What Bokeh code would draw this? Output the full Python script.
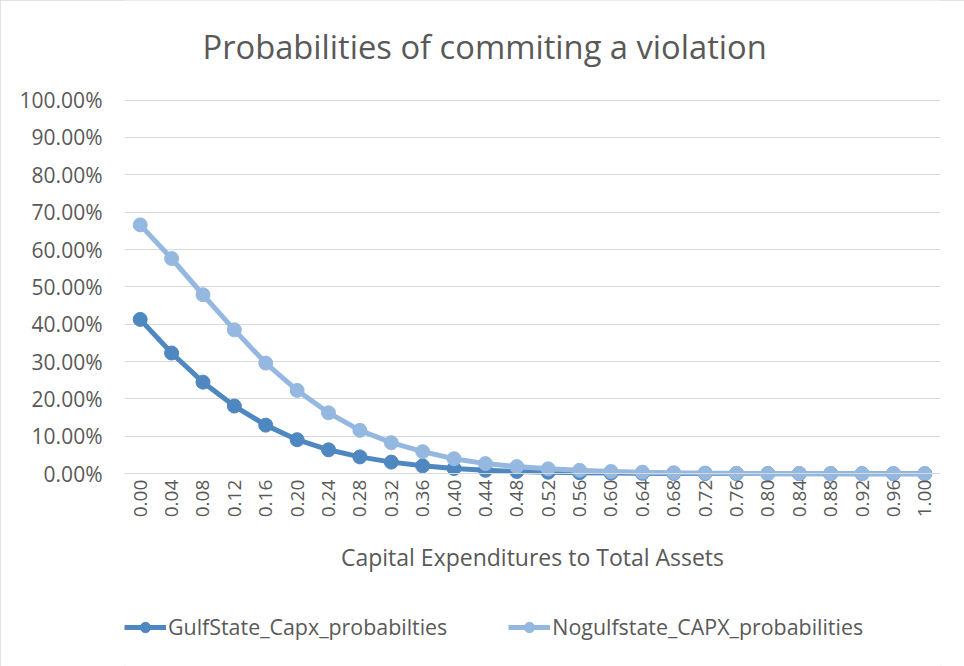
import math
from bokeh.plotting import figure
from bokeh.models import (ColumnDataSource, FixedTicker, NumeralTickFormatter,
                          Legend, LegendItem, Range1d, Label)
from bokeh.embed import file_html
from bokeh.resources import INLINE

# ---- data ----
capx_ratio = [0.00, 0.04, 0.08, 0.12, 0.16, 0.20, 0.24, 0.28, 0.32, 0.36,
              0.40, 0.44, 0.48, 0.52, 0.56, 0.60, 0.64, 0.68, 0.72, 0.76,
              0.80, 0.84, 0.88, 0.92, 0.96, 1.00]
gulf_prob = [0.413, 0.323, 0.245, 0.181, 0.130, 0.091, 0.064, 0.045, 0.031,
             0.021, 0.014, 0.009, 0.006, 0.004, 0.0027, 0.0018, 0.0012,
             0.0008, 0.0005, 0.0003, 0.0002, 0.00013, 0.00008, 0.00005,
             0.00003, 0.00002]
nogulf_prob = [0.666, 0.576, 0.479, 0.385, 0.296, 0.223, 0.163, 0.116, 0.083,
               0.059, 0.040, 0.027, 0.019, 0.013, 0.009, 0.006, 0.004, 0.0025,
               0.0016, 0.0010, 0.0006, 0.0004, 0.00025, 0.00015, 0.0001,
               0.00006]
y_ticks = [0.0, 0.1, 0.2, 0.3, 0.4, 0.5, 0.6, 0.7, 0.8, 0.9, 1.0]

title_text = "Probabilities of commiting a violation"
x_title = "Capital Expenditures to Total Assets"
series_names = ["GulfState_Capx_probabilties", "Nogulfstate_CAPX_probabilities"]
colors = ["#4f87c0", "#95b8e1"]

FONT = "Open Sans"
TXT = "#595959"

W, H = 964, 666
# plot-area geometry (px): 0 % at y=473.2, 100 % at y=99.6
Y0_PX, Y100_PX = 473.2, 99.6
unit = Y0_PX - Y100_PX
y_top = 1 + Y100_PX / unit
y_bot = -(H - Y0_PX) / unit

src = ColumnDataSource(dict(x=capx_ratio, g=gulf_prob, n=nogulf_prob))

p = figure(width=W, height=H, output_backend="svg", toolbar_location=None,
           x_range=Range1d(-0.02, 1.02), y_range=Range1d(y_bot, y_top),
           min_border_left=124, min_border_right=24,
           min_border_top=0, min_border_bottom=0)
p.outline_line_color = None
p.background_fill_color = "white"
p.border_fill_color = "white"
p.title.text = ""
p.styles = {"outline": "1px solid #d9d9d9", "outline-offset": "-1px"}

# title (as a label in the frame so it can sit high up)
p.add_layout(Label(x=78, y=H - 46, x_units="screen", y_units="screen",
                   text=title_text, text_font=FONT, text_font_size="32.7px",
                   text_color=TXT, text_baseline="alphabetic",
                   text_align="left"))

# grids
p.xgrid.grid_line_color = None
p.ygrid.grid_line_color = "#d9d9d9"
p.ygrid.grid_line_width = 1
p.ygrid.ticker = FixedTicker(ticks=y_ticks)

# y axis
p.yaxis.ticker = FixedTicker(ticks=y_ticks)
p.yaxis.formatter = NumeralTickFormatter(format="0.00%")
p.yaxis.axis_line_color = None
p.yaxis.major_tick_line_color = None
p.yaxis.minor_tick_line_color = None
p.yaxis.major_tick_out = 0
p.yaxis.major_tick_in = 0
p.yaxis.major_label_standoff = 22
p.yaxis.major_label_text_font = FONT
p.yaxis.major_label_text_font_size = "21px"
p.yaxis.major_label_text_color = TXT

# x axis, pinned at 0 %
p.xaxis.fixed_location = 0
p.xaxis.ticker = FixedTicker(ticks=capx_ratio)
p.xaxis.formatter = NumeralTickFormatter(format="0.00")
p.xaxis.axis_line_color = "#d9d9d9"
p.xaxis.axis_line_width = 1
p.xaxis.major_tick_line_color = None
p.xaxis.minor_tick_line_color = None
p.xaxis.major_tick_out = 0
p.xaxis.major_tick_in = 0
p.xaxis.major_label_standoff = 6
p.xaxis.major_label_orientation = math.pi / 2
p.xaxis.major_label_text_font = FONT
p.xaxis.major_label_text_font_size = "19px"
p.xaxis.major_label_text_color = TXT
p.xaxis.axis_label = x_title
p.xaxis.axis_label_text_font = FONT
p.xaxis.axis_label_text_font_size = "23px"
p.xaxis.axis_label_text_font_style = "normal"
p.xaxis.axis_label_text_color = TXT
p.xaxis.axis_label_standoff = 21

# series
items = []
for col, name, color in zip(["g", "n"], series_names, colors):
    ln = p.line("x", col, source=src, line_color=color, line_width=5)
    sc = p.scatter("x", col, source=src, size=14, fill_color=color,
                   line_color=color, marker="circle")
    items.append(LegendItem(label=name, renderers=[ln, sc]))

legend = Legend(items=items, orientation="horizontal", location=(0, 25),
                glyph_width=42, glyph_height=26, label_height=26,
                label_standoff=2, spacing=61,
                padding=0, margin=0, border_line_color=None,
                background_fill_alpha=0, label_text_font=FONT,
                label_text_font_size="21.4px", label_text_color=TXT)
p.add_layout(legend, "center")

open("out.html", "w").write(file_html(p, INLINE))
